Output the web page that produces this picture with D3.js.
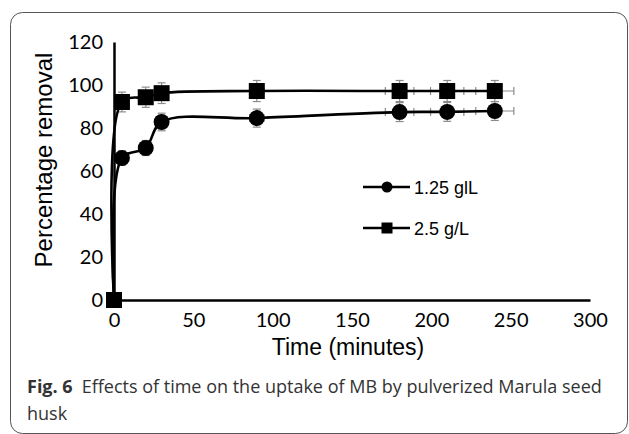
<!DOCTYPE html>
<html>
<head>
<meta charset="utf-8">
<script src="https://cdn.jsdelivr.net/npm/d3@7"></script>
<style>
  body { margin: 0; background: #fff; }
  svg { display: block; }
</style>
</head>
<body>
<div id="chart"></div>
<script>
// Data
const times = [0, 5, 20, 30, 90, 180, 210, 240];
const removal125 = [0, 66, 70.7, 82.8, 84.6, 87.4, 87.5, 87.9];
const removal25 = [0, 92.1, 94.3, 96.2, 97.2, 97.2, 97.2, 97.2];
const yErr125 = [0, 3.3, 3.5, 4.1, 4.2, 4.4, 4.4, 4.4];
const yErr25 = [0, 4.6, 4.7, 4.8, 4.9, 4.9, 4.9, 4.9];
const xErr = [0, 0.3, 1, 1.5, 4.5, 9, 10.5, 12];
const xTicks = [0, 50, 100, 150, 200, 250, 300];
const yTicks = [0, 20, 40, 60, 80, 100, 120];
const seriesNames = ["1.25 glL", "2.5 g/L"];

const W = 629, H = 434;
const margin = { top: 42, right: 39, bottom: 134, left: 114 };
const width = W - margin.left - margin.right;
const height = H - margin.top - margin.bottom;

const svg = d3.select("#chart").append("svg")
    .attr("width", W)
    .attr("height", H);

// Caption frame
svg.append("rect")
    .attr("x", 10.5).attr("y", 12.5)
    .attr("width", 617).attr("height", 421)
    .attr("rx", 12).attr("ry", 12)
    .attr("fill", "none")
    .attr("stroke", "#555")
    .attr("stroke-width", 1);

const g = svg.append("g")
    .attr("transform", `translate(${margin.left},${margin.top})`);

const x = d3.scaleLinear().domain([0, 300]).range([0, width]);
const y = d3.scaleLinear().domain([0, 120]).range([height, 0]);

// Axes (no tick marks, labels only)
const xAxis = g.append("g")
    .attr("transform", `translate(0,${height})`)
    .call(d3.axisBottom(x).tickValues(xTicks).tickSize(0).tickPadding(13));
xAxis.select(".domain").attr("stroke", "#000").attr("stroke-width", 2.5);
xAxis.selectAll("text")
    .style("font-family", "Lato, sans-serif")
    .style("font-size", "20px")
    .attr("fill", "#000");

const yAxis = g.append("g")
    .call(d3.axisLeft(y).tickValues(yTicks).tickSize(0).tickPadding(11));
yAxis.select(".domain").attr("stroke", "#000").attr("stroke-width", 2.5);
yAxis.selectAll("text")
    .style("font-family", "Lato, sans-serif")
    .style("font-size", "20px")
    .attr("fill", "#000");

// Axis titles
g.append("text")
    .attr("x", width / 2 - 4)
    .attr("y", height + 55)
    .attr("text-anchor", "middle")
    .style("font-family", "Liberation Sans, Arial, sans-serif")
    .style("font-size", "23px")
    .text("Time (minutes)");

g.append("text")
    .attr("transform", `translate(${52 - margin.left},${160 - margin.top}) rotate(-90)`)
    .attr("text-anchor", "middle")
    .style("font-family", "Liberation Sans, Arial, sans-serif")
    .style("font-size", "24px")
    .text("Percentage removal");

const series = [
    { name: seriesNames[0], values: removal125, yErr: yErr125, shape: "circle" },
    { name: seriesNames[1], values: removal25, yErr: yErr25, shape: "square" }
];

const line = d3.line()
    .x(d => x(d.t))
    .y(d => y(d.v))
    .curve(d3.curveCatmullRom.alpha(0.5));

series.forEach(s => {
    const pts = times.map((t, i) => ({ t, v: s.values[i], ey: s.yErr[i], ex: xErr[i] }));

    // error bars (grey, capped)
    const eb = g.append("g").attr("stroke", "#8c8c8c").attr("stroke-width", 1.2);
    pts.forEach(p => {
        if (p.ey > 0) {
            eb.append("line").attr("x1", x(p.t)).attr("x2", x(p.t))
                .attr("y1", y(p.v - p.ey)).attr("y2", y(p.v + p.ey));
            [p.v - p.ey, p.v + p.ey].forEach(v => {
                eb.append("line").attr("x1", x(p.t) - 4).attr("x2", x(p.t) + 4)
                    .attr("y1", y(v)).attr("y2", y(v));
            });
        }
        if (p.ex > 0) {
            eb.append("line").attr("x1", x(p.t - p.ex)).attr("x2", x(p.t + p.ex))
                .attr("y1", y(p.v)).attr("y2", y(p.v));
            [p.t - p.ex, p.t + p.ex].forEach(t => {
                eb.append("line").attr("x1", x(t)).attr("x2", x(t))
                    .attr("y1", y(p.v) - 4).attr("y2", y(p.v) + 4);
            });
        }
    });

    g.append("path")
        .datum(pts)
        .attr("d", line)
        .attr("fill", "none")
        .attr("stroke", "#000")
        .attr("stroke-width", 2.6);

    if (s.shape === "circle") {
        g.selectAll(null).data(pts).enter().append("circle")
            .attr("cx", d => x(d.t)).attr("cy", d => y(d.v))
            .attr("r", 8).attr("fill", "#000");
    } else {
        g.selectAll(null).data(pts).enter().append("rect")
            .attr("x", d => x(d.t) - 8).attr("y", d => y(d.v) - 8)
            .attr("width", 16).attr("height", 16).attr("fill", "#000");
    }
});

// Legend
const legend = svg.append("g").attr("transform", "translate(363,187)");
series.forEach((s, i) => {
    const row = legend.append("g").attr("transform", `translate(0,${i * 41})`);
    row.append("line").attr("x1", 0).attr("x2", 47).attr("y1", 0).attr("y2", 0)
        .attr("stroke", "#000").attr("stroke-width", 2.6);
    if (s.shape === "circle") {
        row.append("circle").attr("cx", 24).attr("cy", 0).attr("r", 5.5).attr("fill", "#000");
    } else {
        row.append("rect").attr("x", 18.5).attr("y", -5.5).attr("width", 11).attr("height", 11).attr("fill", "#000");
    }
    row.append("text")
        .attr("x", 51).attr("y", 6.5)
        .style("font-family", "Liberation Sans, Arial, sans-serif")
        .style("font-size", "18px")
        .text(s.name);
});

// Caption
const cap = svg.append("text")
    .attr("x", 27).attr("y", 393)
    .style("font-family", "Open Sans, sans-serif")
    .style("font-size", "18px")
    .attr("fill", "#333");
cap.append("tspan").style("font-weight", "bold").text("Fig. 6");
cap.append("tspan").attr("dx", 9).text("Effects of time on the uptake of MB by pulverized Marula seed");
svg.append("text")
    .attr("x", 27).attr("y", 420)
    .style("font-family", "Open Sans, sans-serif")
    .style("font-size", "18px")
    .attr("fill", "#333")
    .text("husk");
</script>
</body>
</html>
